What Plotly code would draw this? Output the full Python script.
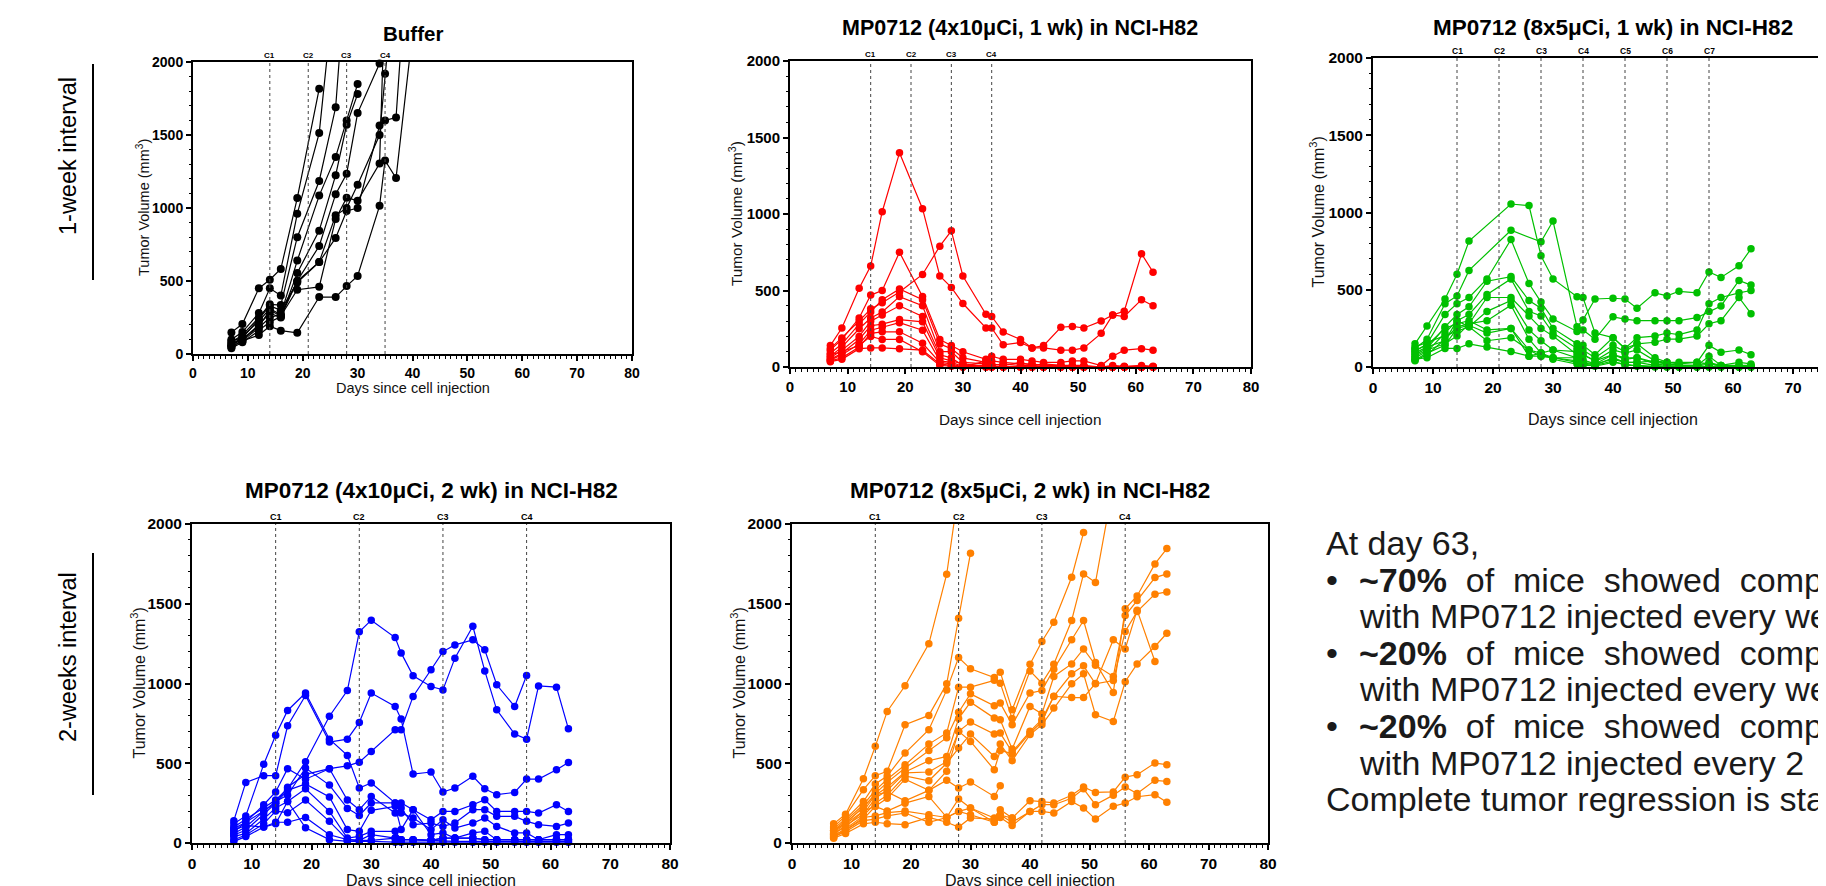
import plotly.graph_objects as go

W, H = 1826, 886
# the page body adds an 8px margin; positions below are target picture pixels
OFF_X = 8
OFF_Y = 8
FONT = "Liberation Sans, Arial, Helvetica, sans-serif"

DAYS = [7, 9, 12, 14, 16, 19, 23, 26, 28, 30, 34, 35, 37, 40, 42, 44, 47, 49, 51, 54, 56, 58, 61, 63]

# ---------------- Buffer (black) ----------------
BUF_1 = [148, 205, 450, 509, 582, 1068, 1817]
BUF_2 = [100, 150, 280, 450, 400, 960, 1513, 2600]
BUF_3 = [80, 130, 250, 340, 335, 800, 1185, 1690, 2700]
BUF_4 = [60, 120, 225, 310, 270, 640, 1085, 1350, 1600, 1850]
BUF_5 = [70, 100, 200, 280, 250, 555, 845, 1225, 1570, 1780]
BUF_6 = [50, 90, 180, 250, 270, 500, 740, 1095, 1235, 1650, 1990]
BUF_7 = [40, 80, 160, 220, 255, 500, 630, 950, 1000, 1160, 1500, 1920, 2700]
BUF_8 = [60, 100, 190, 300, 260, 440, 460, 925, 1070, 1050, 1305, 2500]
BUF_9 = [50, 90, 130, 190, 160, 145, 390, 390, 465, 535, 1015, 1325, 1205, 2200]
BUF_10 = [90, 110, 240, 330, 300, 490, 630, 795, 980, 1000, 1565, 1600, 1620, 3250]

# ---------------- 4x10uCi, 1 wk (red) ----------------
RED_1 = [140, 255, 515, 660, 1015, 1400, 1035, 595, 520, 415, 255, 255, 145, 160, 125, 125, 110, 110, 125, 220, 340, 330, 440, 400]
RED_2 = [110, 180, 320, 470, 500, 750, 460, 180, 140, 100, 50, 70, 50, 50, 40, 30, 30, 40, 40, 10, 70, 110, 120, 110]
RED_3 = [120, 190, 300, 380, 420, 490, 605, 790, 890, 595, 345, 330, 228, 180, 125, 140, 260, 265, 255, 300, 340, 365, 740, 620]
RED_4 = [90, 150, 280, 360, 440, 510, 440, 150, 120, 60, 30, 40, 30, 20, 20, 10, 10, 10, 10, 0, 10, 5, 10, 5]
RED_5 = [70, 130, 250, 320, 360, 460, 400, 100, 100, 30, 20, 10, 20, 10, 10, 5, 5, 5, 5, 0, 0, 0, 0, 0]
RED_6 = [60, 110, 200, 300, 340, 400, 330, 80, 60, 10, 10, 5, 5, 5, 5, 0, 0, 0, 0, 0, 0, 0, 0, 0]
RED_7 = [50, 90, 180, 270, 280, 310, 295, 60, 40, 20, 5, 5, 0, 0, 0, 0, 0, 0, 0, 0, 0, 0, 0, 0]
RED_8 = [45, 80, 150, 240, 260, 290, 240, 40, 30, 5, 0, 0, 0, 0, 0, 0, 0, 0, 0, 0, 0, 0, 0, 0]
RED_9 = [40, 60, 130, 220, 230, 230, 155, 30, 20, 0, 40, 20, 10, 30, 10, 20, 10, 0, 0, 0, 0, 0, 0, 0]
RED_10 = [35, 50, 120, 125, 125, 120, 110, 20, 10, 0, 0, 0, 0, 0, 0, 0, 0, 0, 0, 0, 0, 0, 0, 0]
RED_11 = [80, 100, 140, 200, 180, 180, 100, 10, 5, 0, 0, 0, 0, 0, 0, 0, 0, 0, 0, 0, 0, 0, 0, 0]

# ---------------- 8x5uCi, 1 wk (green) ----------------
GRN_1 = [150, 265, 440, 600, 815, None, 1055, 1045, 720, 570, 455, 450, 220, 190, 120, 150, 160, 180, 180, 200, 280, 300, 450, 345]
GRN_2 = [120, 180, 410, 460, 625, None, 885, None, 810, 945, 260, 305, 440, 445, 440, 380, 480, 460, 490, 480, 615, 580, 655, 765]
GRN_3 = [100, 150, 340, 410, 450, 570, 825, 540, 420, 310, 230, 240, 180, 325, 310, 300, 300, 300, 300, 320, 360, 395, 560, 530]
GRN_4 = [80, 120, 260, 340, 390, 555, 585, 430, 380, 250, 150, 140, 80, 190, 120, 190, 200, 220, 210, 240, 410, 450, 480, 495]
GRN_5 = [60, 100, 220, 300, 340, 470, 570, 360, 330, 220, 120, 110, 60, 140, 100, 150, 60, 30, 30, 30, 140, 95, 110, 80]
GRN_6 = [40, 80, 180, 260, 280, 450, 450, 330, 250, 200, 80, 80, 40, 110, 90, 110, 40, 20, 10, 10, 70, 10, 30, 20]
GRN_7 = [130, 160, 200, 230, 260, 360, 430, 240, 170, 110, 60, 50, 20, 80, 60, 60, 20, 10, 5, 5, 20, 5, 0, 5]
GRN_8 = [70, 110, 150, 200, 280, 300, 400, 180, 90, 60, 40, 30, 10, 60, 30, 30, 10, 5, 0, 0, 5, 0, 0, 0]
GRN_9 = [50, 60, 120, 120, 150, 130, 100, 70, 90, 50, 20, 10, 10, 40, 10, 10, 5, 0, 0, 0, 0, 0, 0, 0]
GRN_10 = [45, 90, 140, 250, 270, 220, 250, 70, 70, 60, 30, 20, 5, 30, 20, 5, 0, 0, 0, 0, 0, 0, 0, 0]
GRN_11 = [90, 130, 170, 300, 260, 170, 190, 110, 90, 110, 100, 80, 40, 80, 50, 60, 30, 20, 10, 10, 30, 10, 10, 10]
GRN_12 = [110, 140, 250, 280, 300, 240, 250, 110, 70, 60, 60, 30, 20, 50, 30, 30, 40, 30, 20, 30, 20, 10, 5, 0]

# ---------------- 4x10uCi, 2 wk (blue) ----------------
BLU_1 = [100, 150, 220, 270, 340, 510, 795, 956, 1324, 1397, 1288, 1192, 1048, 981, 960, 1159, 1359, 1079, 835, 683, 651, 985, 977, 716]
BLU_2 = [140, 380, 422, 422, 735, 925, 633, 651, 756, 940, 856, 777, 432, 445, 320, 345, 418, 340, 303, 317, 401, 401, 459, 505]
BLU_3 = [120, 170, 493, 676, 831, 940, 651, 549, 345, 376, 251, 251, 209, 146, 198, 198, 240, 271, 198, 198, 198, 188, 240, 198]
BLU_4 = [70, 130, 200, 250, 350, 430, 466, 484, 507, 574, 710, 710, 919, 1086, 1200, 1242, 1274, 1211, 992, 856, 1050]
BLU_5 = [90, 130, 240, 320, 466, 400, 466, 269, 209, 292, 188, 219, 115, 125, 104, 125, 209, 209, 167, 167, 136, 115, 104, 125]
BLU_6 = [60, 100, 200, 260, 300, 470, 363, 217, 173, 251, 251, 188, 157, 84, 146, 94, 125, 157, 104, 63, 63, 21, 52, 52]
BLU_7 = [50, 80, 180, 250, 330, 370, 288, 84, 73, 205, 230, 84, 209, 52, 63, 31, 63, 73, 21, 21, 21, 21, 21, 21]
BLU_8 = [40, 60, 150, 220, 260, 340, 198, 31, 42, 73, 73, 21, 21, 17, 31, 31, 31, 21, 21, 21, 21, 21, 21, 21]
BLU_9 = [20, 50, 120, 200, 190, 270, 136, 21, 17, 52, 31, 21, 21, 17, 31, 31, 31, 21, 21, 21, 21, 21, 21, 21]
BLU_10 = [10, 40, 100, 130, 130, 160, 52, 21, 17, 17, 31, 21, 21, 17, 10, 10, 10, 10, 10, 10, 10, 10, 10, 10]
BLU_11 = [80, 110, 100, 120, 260, 95, 21, 10, 10, 10, 5, 5, 5, 5, 5, 5, 5, 5, 5, 5, 5, 5, 5, 5]

# ---------------- 8x5uCi, 2 wk (orange) ----------------
ORG_1 = [120, 180, 403, 606, 825, 986, 1249, 1685, 2210]
ORG_2 = [100, 170, 334, 422, 450, 741, 800, 998, 1409, 1817]
ORG_3 = [90, 150, 260, 370, 420, 564, 710, 960, 1163, 1092, 1038, 1071, 835, 1121, 1263, 1384, 1666, 1946]
ORG_4 = [80, 140, 240, 330, 400, 490, 620, 690, 977, 977, 1020, 1002, 780, 1079, 1002, 1121, 1395, 1687, 1633, 2250]
ORG_5 = [70, 130, 220, 310, 380, 470, 580, 660, 820, 935, 860, 877, 741, 940, 956, 1090, 1274, 1395, 1132, 944, 1468, 1549, 1750, 1846]
ORG_6 = [65, 120, 200, 300, 350, 445, 516, 543, 780, 883, 783, 773, 589, 856, 810, 1044, 1123, 1217, 1115, 1044, 1426, 1520, 1664, 1687]
ORG_7 = [55, 110, 180, 280, 330, 440, 445, 510, 700, 758, 683, 689, 570, 700, 775, 919, 1061, 1111, 998, 1019, 1326, 1451, 1560, 1574]
ORG_8 = [45, 90, 170, 250, 300, 420, 390, 500, 595, 683, 543, 620, 516, 680, 741, 846, 998, 1061, 804, 762, 1011, 1123, 1232, 1315]
ORG_9 = [35, 80, 150, 230, 280, 400, 330, 450, 700, 637, 459, 580, 560, 690, 760, 920, 912, 912, 1000, 1274, 1217, 1460, 1138]
ORG_10 = [80, 120, 230, 300, 320, 265, 330, 393, 345, 382, 292, 359]
ORG_11 = [60, 100, 200, 230, 200, 250, 292, 161, 276, 219, 157, 209, 157, 265, 260, 251, 299, 351, 317, 320, 413, 428, 501, 491]
ORG_12 = [50, 80, 160, 170, 190, 200, 177, 160, 198, 177, 130, 175, 130, 198, 240, 240, 280, 340, 240, 300, 351, 310, 393, 386]
ORG_13 = [30, 60, 120, 130, 121, 115, 160, 130, 100, 157, 150, 160, 109, 198, 198, 188, 260, 219, 150, 230, 251, 290, 303, 255]
ORG_14 = [40, 70, 140, 150, 170, 188, 130, 160, 198, 219, 130, 175, 157]

BUFFER = [BUF_1, BUF_2, BUF_3, BUF_4, BUF_5, BUF_6, BUF_7, BUF_8, BUF_9, BUF_10]
RED = [RED_1, RED_2, RED_3, RED_4, RED_5, RED_6, RED_7, RED_8, RED_9, RED_10, RED_11]
GREEN = [GRN_1, GRN_2, GRN_3, GRN_4, GRN_5, GRN_6, GRN_7, GRN_8, GRN_9, GRN_10, GRN_11, GRN_12]
BLUE = [BLU_1, BLU_2, BLU_3, BLU_4, BLU_5, BLU_6, BLU_7, BLU_8, BLU_9, BLU_10, BLU_11]
ORANGE = [ORG_1, ORG_2, ORG_3, ORG_4, ORG_5, ORG_6, ORG_7, ORG_8, ORG_9, ORG_10, ORG_11, ORG_12, ORG_13, ORG_14]

TITLES = ["Buffer",
          "MP0712 (4x10μCi, 1 wk) in NCI-H82",
          "MP0712 (8x5μCi, 1 wk) in NCI-H82",
          "MP0712 (4x10μCi, 2 wk) in NCI-H82",
          "MP0712 (8x5μCi, 2 wk) in NCI-H82"]
CYCLES = [[14, 21, 28, 35],
          [14, 21, 28, 35],
          [14, 21, 28, 35, 42, 49, 56],
          [14, 28, 42, 56],
          [14, 28, 42, 56]]
X_TITLE = "Days since cell injection"
Y_TITLE = "Tumor Volume (mm<sup>3</sup>)"

# layout of each panel (target pixel boxes of the plotting area)
PANELS = [
    dict(data=BUFFER, color="#000000", box=(193, 632, 62, 354), full_right=632,
         title_y=33, xt_y=388, yt_x=143, tick=14, ttl=20.5, axt=14.5, cfont=8, msize=8),
    dict(data=RED, color="#FF0000", box=(790, 1251, 61, 367), full_right=1251,
         title_y=28, xt_y=420, yt_x=736, tick=15, ttl=21.5, axt=15.3, cfont=8, msize=7.5),
    dict(data=GREEN, color="#00C000", box=(1373, W + OFF_X, 58, 367), full_right=1853,
         title_y=27, xt_y=420, yt_x=1318, tick=15.5, ttl=22.5, axt=16, cfont=8.5, msize=7.5),
    dict(data=BLUE, color="#0000FF", box=(192, 670, 524, 843), full_right=670,
         title_y=490, xt_y=880, yt_x=138, tick=15.5, ttl=22.5, axt=16, cfont=9, msize=7.5),
    dict(data=ORANGE, color="#FF8000", box=(792, 1268, 524, 843), full_right=1268,
         title_y=490, xt_y=880, yt_x=738, tick=15.5, ttl=22.5, axt=16, cfont=9, msize=7.5),
]


def px(x):
    return min(1.0, (x - OFF_X) / W)


def py(y):
    return max(0.0, 1 - (y - OFF_Y) / H)


fig = go.Figure()
annotations = []
shapes = []

for i, p in enumerate(PANELS, start=1):
    xs = "x" if i == 1 else f"x{i}"
    ys = "y" if i == 1 else f"y{i}"
    x0, x1, y0, y1 = p["box"]
    xmax = 80 * (x1 - x0) / (p["full_right"] - x0)
    col = p["color"]
    for s in p["data"]:
        d = DAYS[:len(s)]
        fig.add_trace(go.Scatter(x=d, y=s, mode="lines", xaxis=xs, yaxis=ys,
                                 line=dict(color=col, width=1.2), connectgaps=True,
                                 showlegend=False, hoverinfo="skip"))
        mx = [dd for dd, v in zip(d, s) if v is not None and v <= 2000]
        my = [v for v in s if v is not None and v <= 2000]
        fig.add_trace(go.Scatter(x=mx, y=my, mode="markers", xaxis=xs, yaxis=ys,
                                 marker=dict(color=col, size=p["msize"]),
                                 cliponaxis=False, showlegend=False, hoverinfo="skip"))

    cut = p["full_right"] > x1
    xa = dict(domain=[px(x0), px(x1)], range=[0, xmax], anchor=ys,
              showline=True, linewidth=2, linecolor="black", mirror=True,
              ticks="outside", ticklen=5, tickwidth=2, tickcolor="black",
              tick0=0, dtick=10,
              tickfont=dict(family=FONT, size=p["tick"], color="black", weight="bold"),
              minor=dict(ticks="outside", ticklen=2.5, tickwidth=1, tickcolor="black", dtick=1),
              showgrid=False, zeroline=False, fixedrange=True)
    ya = dict(domain=[py(y1), py(y0)], range=[0, 2000], anchor=xs,
              showline=True, linewidth=2, linecolor="black", mirror=not cut,
              ticks="outside", ticklen=5, tickwidth=2, tickcolor="black",
              tick0=0, dtick=500,
              tickfont=dict(family=FONT, size=p["tick"], color="black", weight="bold"),
              minor=dict(ticks="outside", ticklen=2.5, tickwidth=1, tickcolor="black", dtick=100),
              showgrid=False, zeroline=False, fixedrange=True)
    fig.update_layout(**{("xaxis" if i == 1 else f"xaxis{i}"): xa,
                         ("yaxis" if i == 1 else f"yaxis{i}"): ya})

    cx = (x0 + p["full_right"]) / 2
    annotations.append(dict(text=f"<b>{TITLES[i-1]}</b>", x=px(cx), y=py(p["title_y"]),
                            xref="paper", yref="paper", xanchor="center", yanchor="middle",
                            showarrow=False, font=dict(family=FONT, size=p["ttl"], color="black")))
    annotations.append(dict(text=X_TITLE, x=px(cx), y=py(p["xt_y"]),
                            xref="paper", yref="paper", xanchor="center", yanchor="middle",
                            showarrow=False, font=dict(family=FONT, size=p["axt"], color="#111")))
    annotations.append(dict(text=Y_TITLE, x=px(p["yt_x"]), y=py((y0 + y1) / 2),
                            xref="paper", yref="paper", xanchor="center", yanchor="middle",
                            textangle=-90, showarrow=False,
                            font=dict(family=FONT, size=p["axt"], color="#111")))
    for k, c in enumerate(CYCLES[i-1], start=1):
        shapes.append(dict(type="line", xref=xs, yref=f"{ys} domain", x0=c, x1=c, y0=0, y1=1,
                           line=dict(color="#444", width=1, dash="dot")))
        annotations.append(dict(text=f"<b>C{k}</b>", x=c, y=1, xref=xs, yref=f"{ys} domain",
                                xanchor="center", yanchor="bottom", showarrow=False,
                                font=dict(family=FONT, size=p["cfont"], color="black")))

# left group labels
for label, yc, ya0, ya1 in [("1-week interval", 156, 64, 280), ("2-weeks interval", 657, 553, 795)]:
    annotations.append(dict(text=label, x=px(68), y=py(yc), xref="paper", yref="paper",
                            xanchor="center", yanchor="middle", textangle=-90, showarrow=False,
                            font=dict(family=FONT, size=23.5, color="black")))
    shapes.append(dict(type="line", xref="paper", yref="paper", x0=px(93), x1=px(93),
                       y0=py(ya0), y1=py(ya1), line=dict(color="black", width=2)))

# text block
NB = "\u00a0\u00a0"


def bullet_line(pct):
    return f"<b>{pct}</b>{NB}of{NB}mice{NB}showed{NB}comp"


TEXT_LINES = [
    (1325, False, "At day 63,"),
    (1358, True, bullet_line("~70%")),
    (1358, False, "with MP0712 injected every we"),
    (1358, True, bullet_line("~20%")),
    (1358, False, "with MP0712 injected every we"),
    (1358, True, bullet_line("~20%")),
    (1358, False, "with MP0712 injected every 2"),
    (1325, False, "Complete tumor regression is sta"),
]
for j, (xl, bullet, txt) in enumerate(TEXT_LINES):
    yc = 543 + 36.6 * j
    annotations.append(dict(text=txt, x=px(xl), y=py(yc), xref="paper", yref="paper",
                            xanchor="left", yanchor="middle", showarrow=False, borderpad=0,
                            font=dict(family=FONT, size=34, color="#1a1a1a")))
    if bullet:
        annotations.append(dict(text="•", x=px(1325), y=py(yc), xref="paper", yref="paper",
                                xanchor="left", yanchor="middle", showarrow=False, borderpad=0,
                                font=dict(family=FONT, size=34, color="#1a1a1a")))

fig.update_layout(width=W, height=H, margin=dict(l=0, r=0, t=0, b=0, autoexpand=False),
                  paper_bgcolor="white", plot_bgcolor="white",
                  annotations=annotations, shapes=shapes, showlegend=False)

fig.write_html("out.html", config={"displayModeBar": False})
